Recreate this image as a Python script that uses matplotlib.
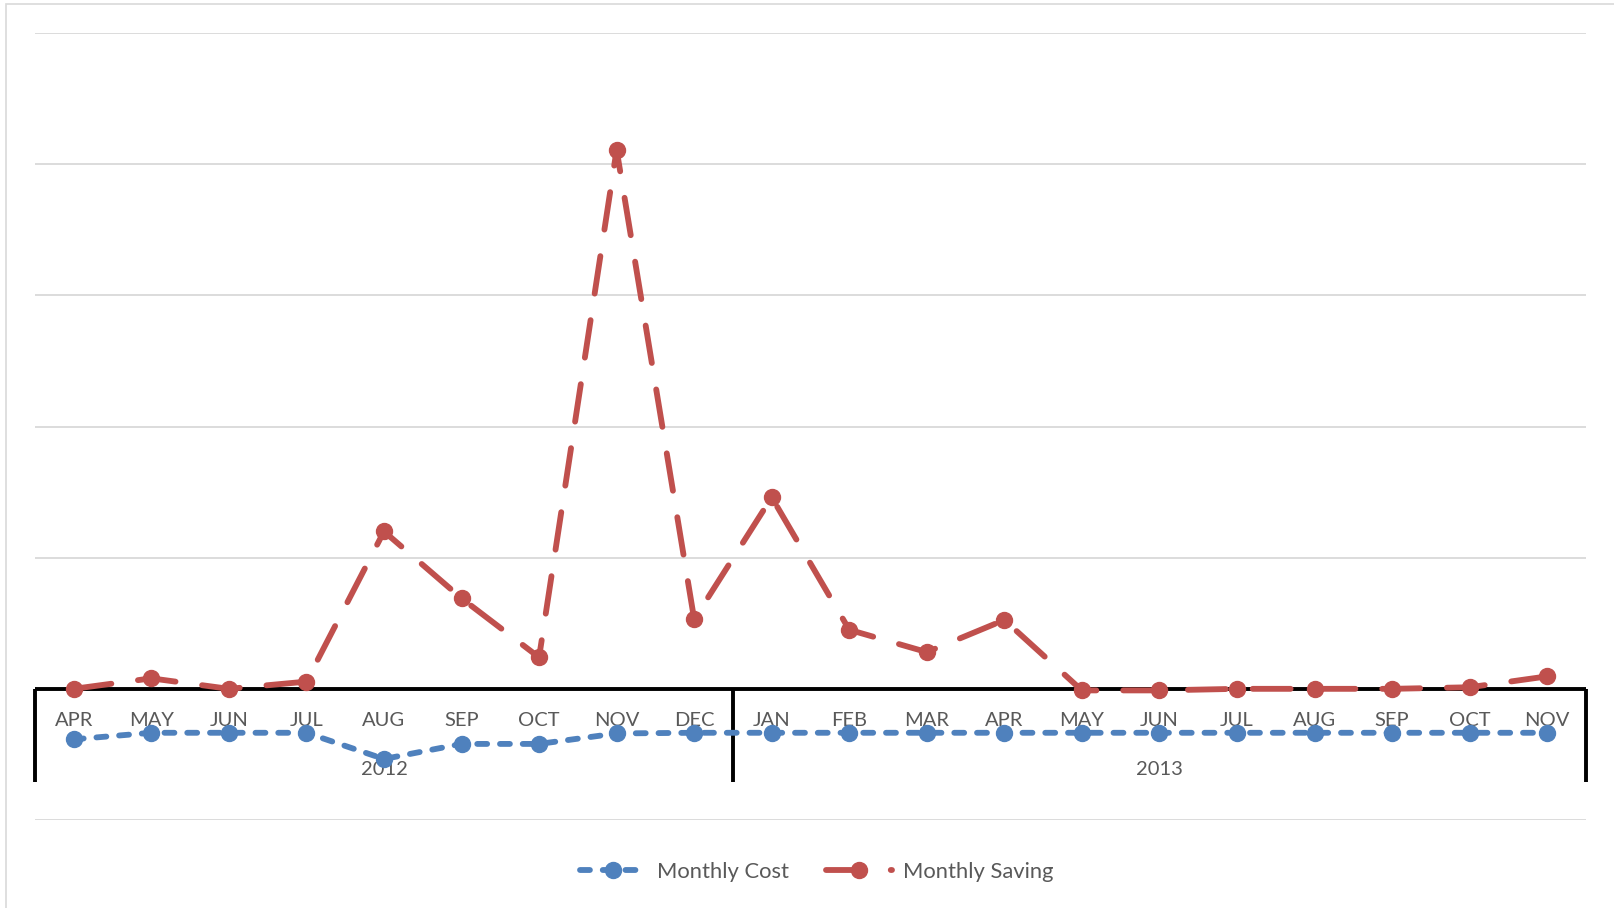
import matplotlib
matplotlib.use('Agg')
from matplotlib import pyplot as plt
from matplotlib.patches import Rectangle

months = ['APR', 'MAY', 'JUN', 'JUL', 'AUG', 'SEP', 'OCT', 'NOV', 'DEC',
          'JAN', 'FEB', 'MAR', 'APR', 'MAY', 'JUN', 'JUL', 'AUG', 'SEP', 'OCT', 'NOV']
years = ['2012', '2013']
year_counts = [9, 11]

monthly_cost = [-385, -335, -335, -335, -535, -420, -420, -340, -335,
                -335, -335, -335, -335, -335, -335, -335, -335, -335, -335, -335]
monthly_saving = [0, 80, 0, 55, 1200, 690, 240, 4110, 530,
                  1460, 450, 280, 525, -12, -12, 0, 0, 0, 12, 95]

BLUE = '#4F81BD'
RED = '#C0504D'
TEXT = '#595959'

plt.rcParams['font.family'] = ['Lato', 'DejaVu Sans']

fig = plt.figure(figsize=(16.14, 9.08), dpi=100)
# light chart border
fig.patches.append(Rectangle((6/1614, -0.1), 1.2, 1 - 4/908 + 0.1, transform=fig.transFigure,
                             fill=False, edgecolor='#D9D9D9', lw=1.2))
ax = fig.add_axes([35/1614, 1 - 820/908, (1586 - 35)/1614, (820 - 33)/908])

x = list(range(len(months)))
ax.set_xlim(-0.5, len(months) - 0.5)
ax.set_ylim(-1000, 5000)
for s in ax.spines.values():
	s.set_visible(False)
ax.set_xticks([])
ax.set_yticks([])

# gridlines
for g in range(-1000, 5001, 1000):
	if g != 0:
		ax.axhline(g, color='#D9D9D9', lw=1.3, zorder=0)

# category axis at zero with year separators
ax.axhline(0, color='black', lw=2.8, zorder=2)
edges = [-0.5]
for c in year_counts:
	edges.append(edges[-1] + c)
ax.vlines(edges, -707, 0, color='black', lw=2.8, zorder=2, clip_on=False)

for i, m in enumerate(months):
	ax.text(i, -245, m, ha='center', va='center', fontsize=14.5, color=TEXT, zorder=1)
for k, yr in enumerate(years):
	ax.text((edges[k] + edges[k + 1]) / 2, -612, yr, ha='center', va='center',
	        fontsize=14.5, color=TEXT, zorder=1)

ax.plot(x, monthly_cost, color=BLUE, lw=4.2, marker='o', ms=11.5,
        dashes=(1.7, 2.2), dash_capstyle='round', label='Monthly Cost', zorder=3, clip_on=False)
ax.plot(x, monthly_saving, color=RED, lw=4.2, marker='o', ms=11.5,
        dashes=(6.5, 4.6), dash_capstyle='round', label='Monthly Saving', zorder=4, clip_on=False)

leg = fig.legend(loc='center', bbox_to_anchor=(0.506, 1 - 872/908), ncol=2, frameon=False,
                 fontsize=15.8, handlelength=3.0, handletextpad=0.5, columnspacing=1.7,
                 numpoints=1)
for t in leg.get_texts():
	t.set_color(TEXT)

fig.savefig('out.png', dpi=100)
